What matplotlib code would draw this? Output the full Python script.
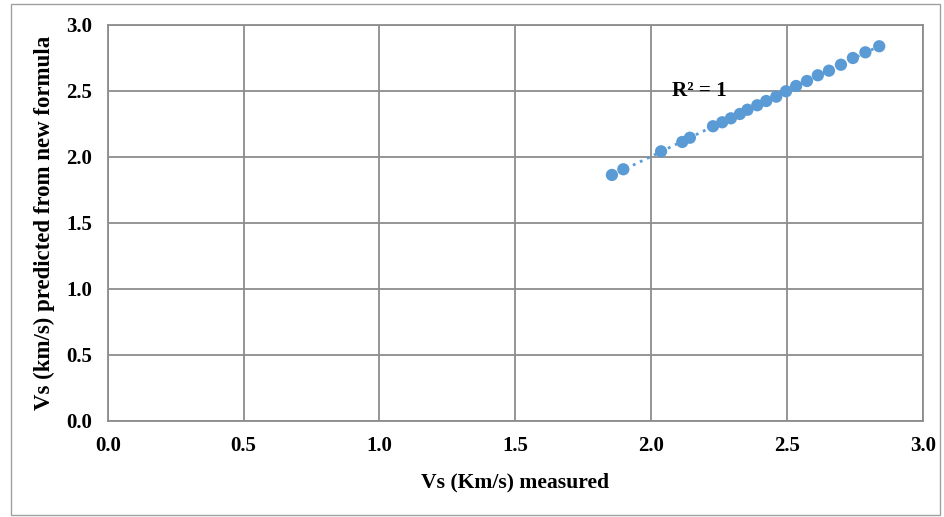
import numpy as np
import matplotlib
matplotlib.use("Agg")
import matplotlib.pyplot as plt
from matplotlib.patches import Rectangle

measured = [1.856, 1.898, 2.037, 2.115, 2.143, 2.228, 2.262, 2.294, 2.327, 2.355, 2.391,
            2.424, 2.461, 2.497, 2.534, 2.574, 2.614, 2.655, 2.699, 2.743, 2.789, 2.840]
predicted = [1.864, 1.907, 2.043, 2.114, 2.146, 2.233, 2.263, 2.293, 2.326, 2.358, 2.392,
             2.424, 2.457, 2.498, 2.538, 2.576, 2.619, 2.654, 2.699, 2.750, 2.793, 2.839]
ticks = [0.0, 0.5, 1.0, 1.5, 2.0, 2.5, 3.0]
tick_labels = ["0.0", "0.5", "1.0", "1.5", "2.0", "2.5", "3.0"]

plt.rcParams['font.family'] = ['Liberation Serif', 'DejaVu Serif']
plt.rcParams['font.weight'] = 'bold'

fig = plt.figure(figsize=(9.45, 5.17), dpi=100)
W, H = 945, 517
ax = fig.add_axes([107.7 / W, 1 - 421 / H, (922.7 - 107.7) / W, (421 - 25) / H])

grey = '#8c8c8c'
blue = '#5B9BD5'

x = np.array(measured)
y = np.array(predicted)
coef = np.polyfit(x, y, 1)
xx = np.array([x.min(), x.max()])
ax.plot(xx, np.polyval(coef, xx), linestyle=(0, (1, 1.8)), color=blue, linewidth=2, zorder=2)
ax.scatter(x, y, s=78, color=blue, zorder=3, edgecolors='none')

ax.set_xlim(0, 3)
ax.set_ylim(0, 3)
ax.set_xticks(ticks)
ax.set_xticklabels(tick_labels)
ax.set_yticks(ticks)
ax.set_yticklabels(tick_labels)
ax.grid(True, color=grey, linewidth=1.3, zorder=0)
ax.set_axisbelow(True)
for s in ax.spines.values():
    s.set_color(grey)
    s.set_linewidth(1.3)
ax.tick_params(length=0, labelsize=15)
for lab in ax.get_xticklabels() + ax.get_yticklabels():
    lab.set_fontweight('bold')
ax.tick_params(axis='x', pad=11)
ax.tick_params(axis='y', pad=11)

ax.set_xlabel("Vs (Km/s) measured", fontsize=15.6, fontweight='bold', labelpad=12)
ax.set_ylabel("Vs (km/s) predicted from new formula", fontsize=16.5, fontweight='bold', labelpad=8)

ax.text(2.078, 2.5, "R² = 1", fontsize=15.2, fontweight='bold', va='center', ha='left')

fig.patches.append(Rectangle((10.5 / W, 1 - 514.5 / H), (940 - 10.5) / W, (514.5 - 3.5) / H,
                             transform=fig.transFigure, fill=False, edgecolor='#a0a0a0', linewidth=1))

fig.savefig("out.png", dpi=100)
